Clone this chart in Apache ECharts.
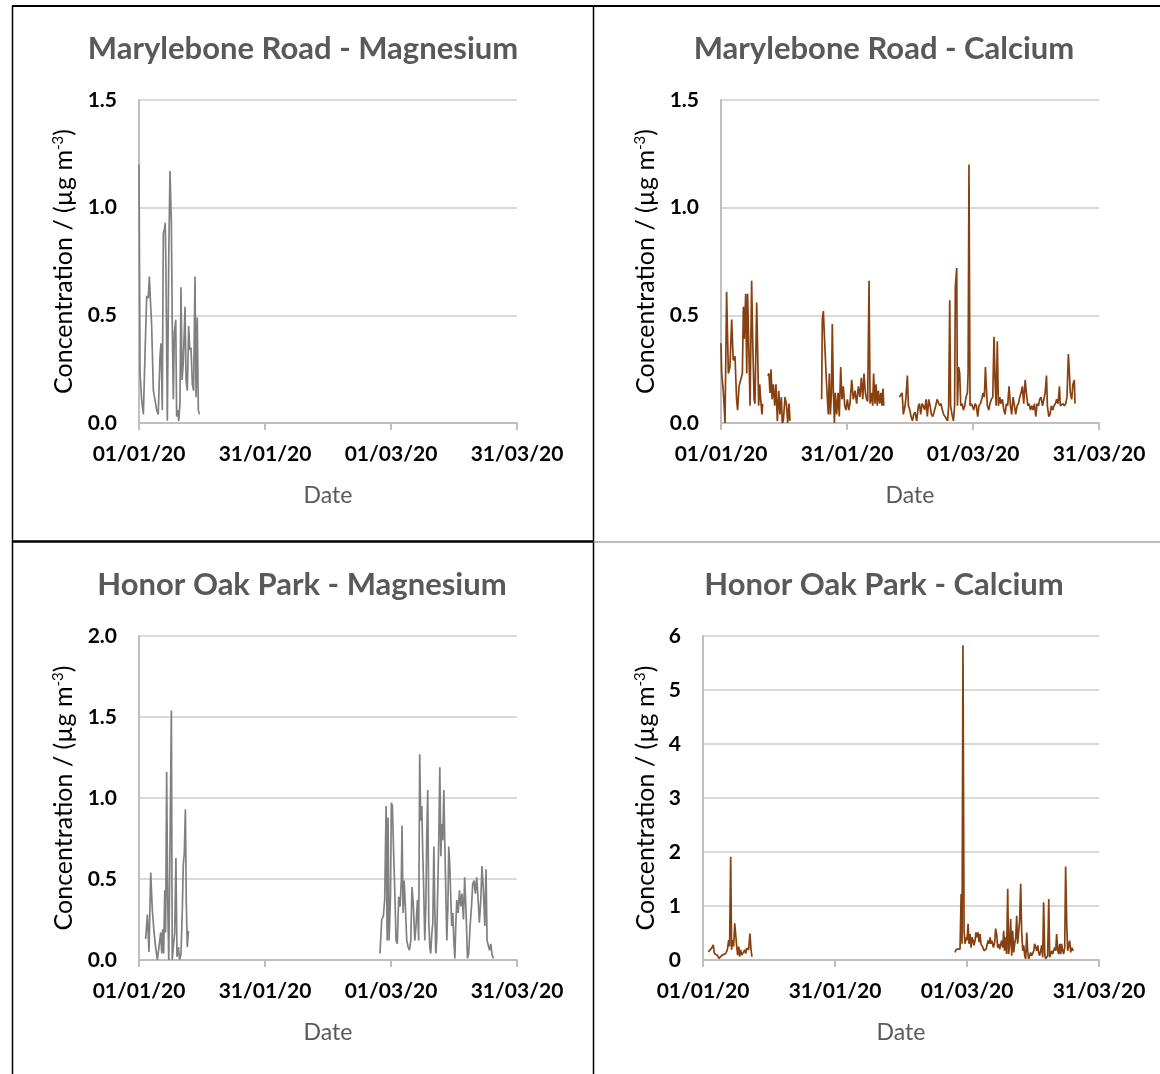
<!DOCTYPE html>
<html>
<head>
<meta charset="utf-8">
<script src="https://cdn.jsdelivr.net/npm/echarts@6/dist/echarts.min.js"></script>
<style>
html,body{margin:0;padding:0;background:#fff;}
#chart{width:1160px;height:1074px;}
</style>
</head>
<body>
<div id="chart"></div>
<script>
// ---- Data (hours since 01/01/20 00:00, concentration in µg m-3; null = no data) ----
const xTickLabels = ['01/01/20', '31/01/20', '01/03/20', '31/03/20'];
const panelTitles = ['Marylebone Road - Magnesium', 'Marylebone Road - Calcium', 'Honor Oak Park - Magnesium', 'Honor Oak Park - Calcium'];

const mbMgHours = [0,6,15,25,34,44,53,59,67,72,82,91,101,110,120,126,133,139,145,150,154,162,170,177,185,190,196,202,210,215,221,227,234,240,246,253,263,269,276,284,290,297,305,312,320,326,333,339,345,349];
const mbMgValues = [1.20,0.23,0.11,0.04,0.31,0.59,0.58,0.68,0.54,0.46,0.15,0.11,0.06,0.04,0.31,0.37,0.06,0.88,0.90,0.93,0.71,0.01,0.77,1.17,0.93,0.46,0.11,0.42,0.48,0.03,0.06,0.01,0.09,0.63,0.20,0.28,0.54,0.20,0.15,0.45,0.34,0.35,0.18,0.15,0.68,0.12,0.49,0.06,0.04,0.04];

const mbCaHours = [0,4,13,23,32,42,51,61,70,80,89,95,103,112,122,128,133,141,147,152,160,166,175,181,189,194,204,210,215,221,227,234,238,
  252,
  267,274,280,286,292,299,307,314,322,330,337,345,350,356,366,375,381,389,394,
  480,
  575,579,585,591,596,602,608,613,619,625,631,636,642,648,653,661,669,676,684,691,699,707,714,722,730,737,747,756,766,775,785,794,802,810,817,825,832,838,846,852,859,867,872,880,886,893,899,907,914,920,926,930,
  975,
  1020,1027,1035,1042,1052,1057,1065,1071,1079,1086,1094,1101,1109,1118,1128,1134,1141,1149,1156,1164,1172,1179,1187,1195,1202,1210,1217,1227,1235,1242,1250,1257,1265,1272,1280,1288,1295,1301,1307,1312,1320,1328,1335,1339,1347,1351,1358,1364,1370,1378,1385,1393,1400,1408,1412,1417,1423,1429,1436,1444,1452,1459,1467,1474,1482,1490,1497,1505,1511,1516,1522,1530,1537,1545,1553,1560,1566,1572,1579,1585,1593,1600,1608,1616,1623,1631,1638,1646,1654,1661,1669,1677,1684,1692,1700,1707,1715,1722,1730,1738,1745,1753,1761,1768,1776,1783,1791,1799,1806,1814,1821,1829,1837,1845,1852,1860,1865,1873,1880,1888,1896,1903,1911,1918,1926,1934,1939,1947,1954,1962,1970,1977,1985,1991,1996,2004,2011,2019,2023];
const mbCaValues = [0.37,0.23,0.15,0.00,0.61,0.23,0.26,0.48,0.29,0.31,0.11,0.06,0.17,0.17,0.23,0.54,0.39,0.60,0.23,0.60,0.31,0.08,0.66,0.39,0.11,0.09,0.56,0.31,0.08,0.18,0.11,0.04,0.09,
  null,
  0.22,0.23,0.14,0.25,0.11,0.18,0.08,0.18,0.01,0.15,0.04,0.12,0.00,0.01,0.12,0.08,0.00,0.09,0.01,
  null,
  0.11,0.48,0.52,0.40,0.31,0.20,0.11,0.04,0.23,0.04,0.14,0.46,0.15,0.00,0.14,0.04,0.14,0.03,0.26,0.11,0.17,0.08,0.06,0.11,0.06,0.09,0.20,0.11,0.15,0.09,0.17,0.12,0.21,0.11,0.23,0.14,0.11,0.10,0.66,0.09,0.14,0.08,0.23,0.09,0.18,0.08,0.15,0.09,0.14,0.08,0.16,0.08,
  null,
  0.12,0.13,0.14,0.04,0.08,0.12,0.22,0.08,0.06,0.03,0.01,0.04,0.05,0.01,0.08,0.09,0.04,0.09,0.08,0.06,0.11,0.03,0.11,0.08,0.04,0.03,0.05,0.08,0.11,0.11,0.08,0.09,0.06,0.04,0.03,0.03,0.01,0.08,0.57,0.08,0.04,0.01,0.08,0.63,0.72,0.08,0.26,0.23,0.08,0.09,0.06,0.08,0.12,0.14,0.23,1.20,0.08,0.09,0.08,0.06,0.09,0.08,0.03,0.08,0.09,0.11,0.14,0.12,0.26,0.17,0.08,0.06,0.09,0.11,0.12,0.40,0.20,0.08,0.38,0.08,0.12,0.09,0.11,0.06,0.04,0.09,0.08,0.17,0.08,0.04,0.12,0.08,0.04,0.08,0.09,0.12,0.14,0.17,0.09,0.20,0.14,0.08,0.09,0.06,0.08,0.06,0.09,0.03,0.09,0.08,0.11,0.12,0.08,0.11,0.14,0.22,0.08,0.03,0.04,0.08,0.06,0.08,0.09,0.11,0.09,0.17,0.08,0.08,0.09,0.08,0.09,0.12,0.32,0.23,0.14,0.11,0.18,0.20,0.09];

const hopMgHours = [38,48,57,67,76,86,95,105,114,124,130,135,141,147,152,158,164,170,177,185,190,196,204,211,217,225,232,240,248,253,259,265,270,276,282,
  800,
  1377,1387,1396,1404,1412,1418,1423,1429,1437,1442,1448,1454,1461,1469,1476,1484,1492,1499,1503,1509,1515,1522,1530,1538,1545,1553,1560,1568,1576,1583,1591,1598,1604,1610,1616,1621,1627,1633,1639,1644,1650,1656,1662,1667,1673,1679,1685,1690,1696,1701,1707,1713,1719,1725,1730,1736,1742,1747,1753,1759,1765,1770,1776,1782,1787,1793,1799,1805,1810,1816,1824,1831,1839,1846,1854,1861,1869,1877,1884,1892,1900,1907,1915,1922,1930,1938,1945,1953,1960,1968,1976,1983,1989,1997,2003,2010,2018,2026];
const hopMgValues = [0.13,0.28,0.05,0.54,0.31,0.17,0.08,0.00,0.08,0.17,0.04,0.19,0.04,0.43,0.17,1.16,0.37,0.00,0.68,1.54,0.00,0.08,0.17,0.63,0.02,0.08,0.00,0.04,0.33,0.59,0.66,0.93,0.37,0.08,0.18,
  null,
  0.04,0.25,0.27,0.37,0.95,0.12,0.88,0.12,0.39,0.97,0.95,0.70,0.45,0.12,0.10,0.39,0.33,0.49,0.83,0.29,0.49,0.33,0.12,0.08,0.06,0.12,0.45,0.33,0.12,0.21,0.37,0.12,1.27,0.86,0.95,0.68,0.43,0.12,0.33,0.74,1.05,0.23,0.08,0.04,0.16,0.23,0.70,0.33,0.04,0.12,0.43,0.74,1.19,0.64,0.84,0.74,1.05,0.74,0.43,0.12,0.33,0.70,0.58,0.37,0.21,0.29,0.12,0.01,0.21,0.37,0.29,0.43,0.33,0.41,0.25,0.51,0.29,0.01,0.04,0.21,0.33,0.47,0.49,0.41,0.51,0.37,0.23,0.37,0.58,0.43,0.21,0.56,0.12,0.12,0.06,0.10,0.03,0.01];

const hopCaHours = [29,38,47,56,62,69,78,87,96,105,115,124,133,140,145,151,156,162,167,173,178,184,189,195,200,205,211,216,222,227,233,238,244,249,256,262,267,
  800,
  1374,1383,1393,1402,1408,1413,1418,1424,1429,1435,1440,1446,1451,1457,1462,1468,1473,1478,1484,1489,1495,1500,1506,1511,1516,1522,1527,1533,1538,1544,1549,1555,1560,1566,1571,1576,1584,1591,1596,1602,1607,1613,1618,1624,1629,1635,1640,1645,1651,1656,1662,1667,1673,1678,1684,1689,1695,1700,1706,1711,1716,1722,1727,1733,1738,1744,1749,1755,1760,1766,1771,1776,1782,1787,1793,1798,1804,1809,1815,1820,1826,1831,1836,1842,1847,1853,1858,1864,1869,1875,1880,1886,1891,1896,1902,1907,1913,1918,1924,1929,1935,1940,1946,1951,1956,1962,1967,1973,1978,1984,1989,1995,2000,2006,2011,2016,2020];
const hopCaValues = [0.15,0.12,0.22,0.28,0.12,0.15,0.09,0.03,0.06,0.09,0.09,0.12,0.19,0.37,0.25,1.91,0.19,0.37,0.25,0.68,0.68,0.25,0.09,0.25,0.06,0.19,0.09,0.09,0.15,0.19,0.12,0.22,0.25,0.19,0.49,0.19,0.06,
  null,
  0.14,0.20,0.17,0.20,1.22,0.30,5.83,0.54,0.30,0.42,0.36,0.67,0.30,0.48,0.23,0.42,0.36,0.27,0.36,0.51,0.42,0.51,0.33,0.48,0.30,0.27,0.23,0.17,0.20,0.20,0.23,0.36,0.30,0.42,0.30,0.36,0.23,0.33,0.58,0.48,0.23,0.30,0.20,0.23,0.36,0.23,0.54,0.17,0.42,0.11,1.32,0.11,0.30,0.76,0.08,0.54,0.14,0.30,0.42,0.82,0.30,0.30,0.73,1.41,0.54,0.17,0.27,0.08,0.02,0.51,0.17,0.02,0.08,0.14,0.08,0.05,0.17,0.30,0.23,0.17,0.27,0.14,0.08,0.17,0.27,0.05,1.07,0.11,0.02,0.02,0.08,1.13,0.05,0.05,0.17,0.11,0.08,0.23,0.17,0.48,0.17,0.11,0.30,0.11,0.30,0.17,0.11,0.23,1.73,0.67,0.17,0.27,0.36,0.14,0.23,0.20,0.17];

const mgColor = '#808080';
const caColor = '#87400f';
const FONT = 'Lato';

function toSeriesData(hours, values) {
  return hours.map((h, i) => [h / 24, values[i] === null ? '-' : values[i]]);
}

const grids = [
  {left: 139, top: 100, width: 378, height: 323},
  {left: 721, top: 100, width: 378, height: 323},
  {left: 139, top: 636, width: 378, height: 324},
  {left: 703, top: 636, width: 396, height: 324}
];
const yCfg = [
  {max: 1.5, interval: 0.5, dec: 1, nameGap: 63},
  {max: 1.5, interval: 0.5, dec: 1, nameGap: 63},
  {max: 2.0, interval: 0.5, dec: 1, nameGap: 63},
  {max: 6, interval: 1, dec: 0, nameGap: 45}
];
const titleCenters = [[303, 48], [884, 48], [302, 584], [884, 584]];

const chart = echarts.init(document.getElementById('chart'), null, {renderer: 'canvas'});

const option = {
  backgroundColor: '#ffffff',
  animation: false,
  title: panelTitles.map((t, i) => ({
    text: t,
    left: titleCenters[i][0],
    top: titleCenters[i][1] - 15,
    textAlign: 'center',
    padding: 0,
    textStyle: {fontFamily: FONT, fontWeight: 'bold', fontSize: 31, color: '#595959'}
  })),
  grid: grids.map(g => Object.assign({containLabel: false}, g)),
  xAxis: grids.map((g, i) => ({
    type: 'value',
    gridIndex: i,
    min: 0, max: 90, interval: 30,
    name: 'Date',
    nameLocation: 'middle',
    nameGap: 61,
    nameTextStyle: {fontFamily: FONT, fontSize: 23, color: '#595959'},
    axisLine: {show: true, onZero: false, lineStyle: {color: '#bfbfbf', width: 2}},
    axisTick: {show: true, length: 7, lineStyle: {color: '#bfbfbf', width: 2}},
    axisLabel: {
      margin: 21,
      fontFamily: FONT, fontWeight: 'bold', fontSize: 21, color: '#000',
      formatter: v => xTickLabels[Math.round(v / 30)] || ''
    },
    splitLine: {show: false}
  })),
  yAxis: grids.map((g, i) => ({
    type: 'value',
    gridIndex: i,
    min: 0, max: yCfg[i].max, interval: yCfg[i].interval,
    name: '{a|Concentration / (µg m}{s|-3}{a|)}',
    nameLocation: 'middle',
    nameRotate: 90,
    nameGap: yCfg[i].nameGap,
    nameTextStyle: {
      rich: {
        a: {fontFamily: FONT, fontSize: 25, color: '#000'},
        s: {fontFamily: FONT, fontSize: 15, color: '#000', verticalAlign: 'top', padding: [0, 0, 10, 0]}
      }
    },
    axisLine: {show: true, lineStyle: {color: '#bfbfbf', width: 2}},
    axisTick: {show: false},
    axisLabel: {
      margin: 22,
      fontFamily: FONT, fontWeight: 'bold', fontSize: 21, color: '#000',
      formatter: v => v.toFixed(yCfg[i].dec)
    },
    splitLine: {show: true, lineStyle: {color: '#d9d9d9', width: 2}}
  })),
  series: [
    {type: 'line', xAxisIndex: 0, yAxisIndex: 0, data: toSeriesData(mbMgHours, mbMgValues), color: mgColor},
    {type: 'line', xAxisIndex: 1, yAxisIndex: 1, data: toSeriesData(mbCaHours, mbCaValues), color: caColor},
    {type: 'line', xAxisIndex: 2, yAxisIndex: 2, data: toSeriesData(hopMgHours, hopMgValues), color: mgColor},
    {type: 'line', xAxisIndex: 3, yAxisIndex: 3, data: toSeriesData(hopCaHours, hopCaValues), color: caColor}
  ].map(s => Object.assign(s, {
    showSymbol: false, symbol: 'none', connectNulls: false,
    lineStyle: {width: 1.7, color: s.color}
  })),
  graphic: [
    {type: 'line', shape: {x1: 12, y1: 6, x2: 1160, y2: 6}, style: {stroke: '#000', lineWidth: 2}},
    {type: 'line', shape: {x1: 12.5, y1: 6, x2: 12.5, y2: 1074}, style: {stroke: '#000', lineWidth: 1.5}},
    {type: 'line', shape: {x1: 593.5, y1: 6, x2: 593.5, y2: 1074}, style: {stroke: '#000', lineWidth: 1.5}},
    {type: 'line', shape: {x1: 12, y1: 541.5, x2: 593, y2: 541.5}, style: {stroke: '#000', lineWidth: 2.5}},
    {type: 'line', shape: {x1: 593, y1: 542, x2: 1160, y2: 542}, style: {stroke: '#777', lineWidth: 1}}
  ]
};
chart.setOption(option);
</script>
</body>
</html>
